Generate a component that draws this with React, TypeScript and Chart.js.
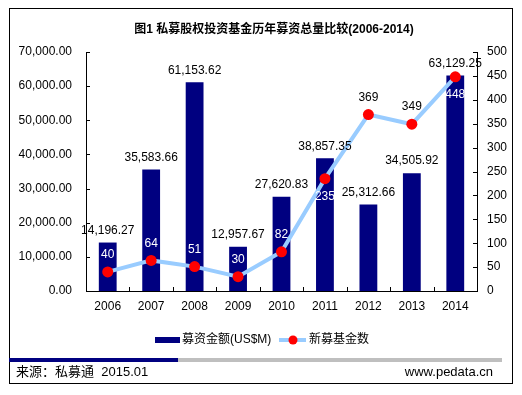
import React, { useEffect, useRef } from "react";
import { Chart, registerables } from "chart.js";

Chart.register(...registerables);

const years = ["2006", "2007", "2008", "2009", "2010", "2011", "2012", "2013", "2014"];
const raisedAmount = [14196.27, 35583.66, 61153.62, 12957.67, 27620.83, 38857.35, 25312.66, 34505.92, 63129.25];
const newFunds = [40, 64, 51, 30, 82, 235, 369, 349, 448];
const titleText = "图1 私募股权投资基金历年募资总量比较(2006-2014)";
const barLegend = "募资金额(US$M)";
const lineLegend = "新募基金数";
const sourceText = "来源：私募通  2015.01";
const siteText = "www.pedata.cn";

const FONT = '"Liberation Sans", Arial, "Noto Sans CJK SC", sans-serif';
const NAVY = "#000080";
const LIGHT = "#99CCFF";
const RED = "#FF0000";

const fmt2 = (v: number) =>
  v.toLocaleString("en-US", { minimumFractionDigits: 2, maximumFractionDigits: 2 });

const labelsBelow = new Set([5, 8]);

const decorPlugin = {
  id: "decor",
  afterDatasetsDraw(chart: any) {
    const ctx = chart.ctx;
    const barMeta = chart.getDatasetMeta(0);
    const lineMeta = chart.getDatasetMeta(1);
    ctx.save();
    ctx.font = `12px ${FONT}`;
    ctx.textAlign = "center";
    ctx.textBaseline = "middle";
    barMeta.data.forEach((el: any, i: number) => {
      ctx.fillStyle = "#000";
      ctx.fillText(fmt2(raisedAmount[i]), el.x, el.y - 12);
    });
    lineMeta.data.forEach((pt: any, i: number) => {
      const y = labelsBelow.has(i) ? pt.y + 18 : pt.y - 17;
      const bar = barMeta.data[i];
      const onBar = y > bar.y && Math.abs(pt.x - bar.x) < bar.width;
      ctx.fillStyle = onBar ? "#FFFFFF" : "#000";
      ctx.fillText(String(newFunds[i]), pt.x, y);
    });
    ctx.restore();
  },
  afterDraw(chart: any) {
    const ctx = chart.ctx;
    const { left, right, bottom } = chart.chartArea;
    const ys = chart.scales.y;
    const y1 = chart.scales.y1;
    const xs = chart.scales.x;
    ctx.save();
    ctx.strokeStyle = "#000";
    ctx.lineWidth = 1;
    ctx.beginPath();
    for (let v = 0; v <= 70000; v += 10000) {
      const y = Math.round(ys.getPixelForValue(v)) + 0.5;
      ctx.moveTo(left, y);
      ctx.lineTo(left + 4, y);
    }
    for (let v = 0; v <= 500; v += 50) {
      const y = Math.round(y1.getPixelForValue(v)) + 0.5;
      ctx.moveTo(right - 4, y);
      ctx.lineTo(right, y);
    }
    for (let i = 1; i < years.length; i++) {
      const x = Math.round((xs.getPixelForValue(i - 1) + xs.getPixelForValue(i)) / 2) + 0.5;
      ctx.moveTo(x, bottom);
      ctx.lineTo(x, bottom - 4);
    }
    ctx.stroke();

    ctx.strokeStyle = "#000";
    ctx.lineWidth = 1;
    ctx.strokeRect(9.5, 8.5, 503, 375);

    ctx.fillStyle = "#000";
    ctx.font = `bold 12px ${FONT}`;
    ctx.textAlign = "center";
    ctx.textBaseline = "middle";
    ctx.fillText(titleText, 274, 30);

    ctx.fillStyle = NAVY;
    ctx.fillRect(155, 337, 25, 6);
    ctx.fillStyle = "#000";
    ctx.font = `12px ${FONT}`;
    ctx.textAlign = "left";
    ctx.fillText(barLegend, 182, 340);
    ctx.strokeStyle = LIGHT;
    ctx.lineWidth = 4;
    ctx.beginPath();
    ctx.moveTo(279, 340);
    ctx.lineTo(306, 340);
    ctx.stroke();
    ctx.fillStyle = RED;
    ctx.beginPath();
    ctx.arc(293, 340, 4.5, 0, Math.PI * 2);
    ctx.fill();
    ctx.fillStyle = "#000";
    ctx.fillText(lineLegend, 309, 340);

    ctx.fillStyle = "#BFBFBF";
    ctx.fillRect(9, 358, 493, 4);
    ctx.fillStyle = NAVY;
    ctx.fillRect(9, 358, 169, 4);

    ctx.fillStyle = "#000";
    ctx.font = `13px ${FONT}`;
    ctx.textAlign = "left";
    ctx.fillText(sourceText, 16, 372);
    ctx.textAlign = "right";
    ctx.fillText(siteText, 493, 372);
    ctx.restore();
  },
};

export default function App() {
  const ref = useRef<HTMLCanvasElement | null>(null);
  useEffect(() => {
    if (!ref.current) return;
    const chart = new Chart(ref.current, {
      type: "bar",
      data: {
        labels: years,
        datasets: [
          {
            type: "bar",
            label: barLegend,
            data: raisedAmount,
            backgroundColor: NAVY,
            yAxisID: "y",
            barPercentage: 0.41,
            categoryPercentage: 1,
            order: 2,
          },
          {
            type: "line",
            label: lineLegend,
            data: newFunds,
            borderColor: LIGHT,
            borderWidth: 4,
            pointRadius: 5.5,
            pointBackgroundColor: RED,
            pointBorderWidth: 0,
            pointBorderColor: RED,
            tension: 0,
            yAxisID: "y1",
            order: 1,
          },
        ] as any,
      },
      options: {
        responsive: false,
        animation: false,
        devicePixelRatio: 1,
        layout: { padding: { top: 52, left: 0, right: 0, bottom: 0 } },
        plugins: {
          legend: { display: false },
          title: { display: false },
          tooltip: { enabled: false },
        },
        scales: {
          x: {
            grid: { display: false, drawTicks: false },
            border: { display: true, color: "#000", width: 1 },
            ticks: { color: "#000", font: { size: 12, family: FONT }, padding: 8, maxRotation: 0 },
            afterFit: (s: any) => {
              s.height = 104;
            },
          },
          y: {
            position: "left",
            min: 0,
            max: 70000,
            grid: { display: false, drawTicks: false },
            border: { display: true, color: "#000", width: 1 },
            ticks: {
              stepSize: 10000,
              color: "#000",
              font: { size: 12, family: FONT },
              padding: 14,
              callback: (v: any) => fmt2(Number(v)),
            },
            afterFit: (s: any) => {
              s.width = 86;
            },
          },
          y1: {
            position: "right",
            min: 0,
            max: 500,
            grid: { display: false, drawTicks: false },
            border: { display: true, color: "#000", width: 1 },
            ticks: {
              stepSize: 50,
              color: "#000",
              font: { size: 12, family: FONT },
              padding: 10,
            },
            afterFit: (s: any) => {
              s.width = 45;
            },
          },
        },
      } as any,
      plugins: [decorPlugin],
    });
    return () => chart.destroy();
  }, []);
  return (
    <div style={{ position: "absolute", left: 0, top: 0, width: 522, height: 395, background: "#fff" }}>
      <canvas ref={ref} width={522} height={395} style={{ display: "block" }} />
    </div>
  );
}
